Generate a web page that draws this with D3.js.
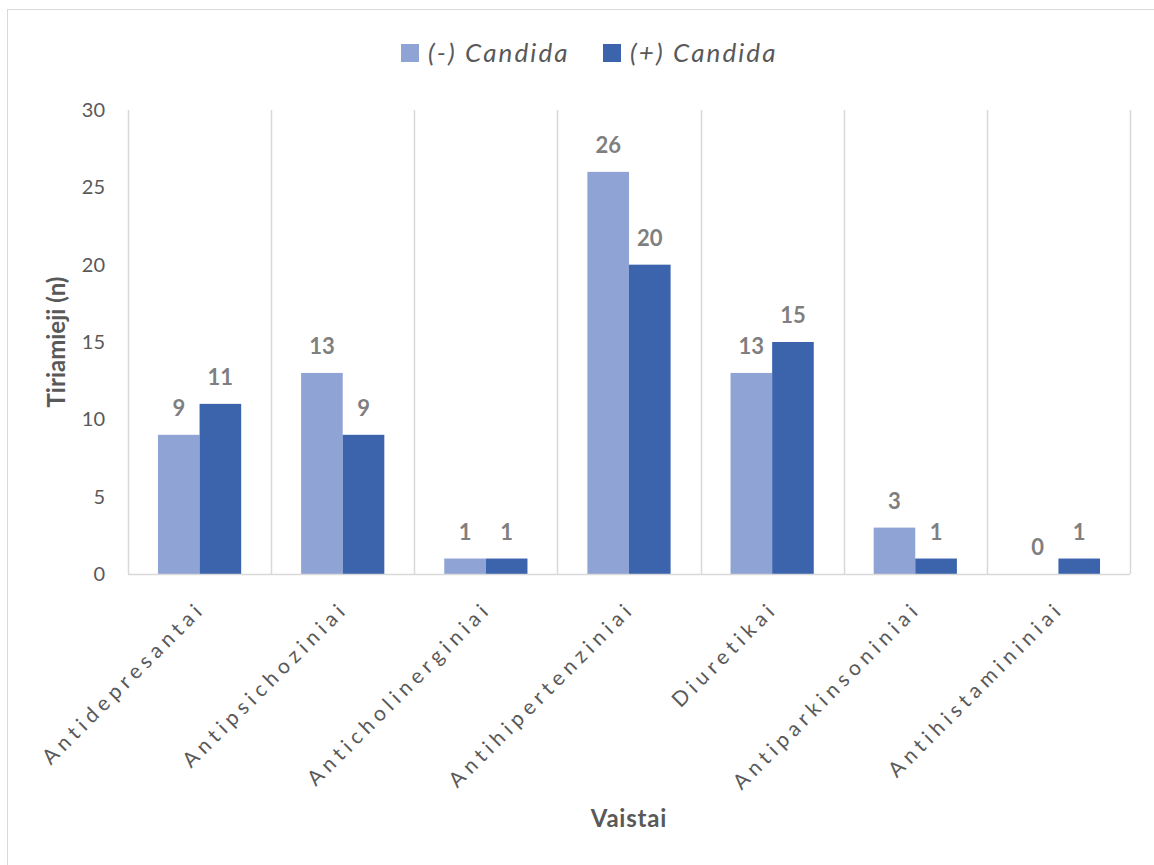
<!DOCTYPE html>
<html>
<head>
<meta charset="utf-8">
<script src="https://cdn.jsdelivr.net/npm/d3@7"></script>
<style>
  html, body { margin: 0; padding: 0; background: #fff; }
  svg { display: block; }
</style>
</head>
<body>
<svg id="chart" width="1154" height="865"></svg>
<script>
const categories = ["Antidepresantai", "Antipsichoziniai", "Anticholinerginiai", "Antihipertenziniai", "Diuretikai", "Antiparkinsoniniai", "Antihistamininiai"];
const seriesNames = ["(-) Candida", "(+) Candida"];
const seriesNeg = [9, 13, 1, 26, 13, 3, 0];
const seriesPos = [11, 9, 1, 20, 15, 1, 1];
const yTicks = [0, 5, 10, 15, 20, 25, 30];
const colors = ["#8FA3D5", "#3B64AD"];
const yTitle = "Tiriamieji (n)";
const xTitle = "Vaistai";

const FONT = "Lato, 'Open Sans', sans-serif";
const svg = d3.select("#chart");
const pL = 128, pR = 1130, pT = 110, pB = 574;

// outer border
svg.append("rect").attr("x", 7.5).attr("y", 9.5).attr("width", 1160).attr("height", 880)
  .attr("fill", "#fff").attr("stroke", "#d9d9d9").attr("stroke-width", 1);

const x = d3.scaleBand().domain(categories).range([pL, pR]).padding(0);
const xs = d3.scaleBand().domain(seriesNames).range([0, x.bandwidth()]).paddingInner(0).paddingOuter(0.72);
const y = d3.scaleLinear().domain([0, 30]).range([pB, pT]);

// vertical gridlines at category boundaries
const bounds = categories.map(c => x(c)).concat([pR]);
svg.append("g").selectAll("line").data(bounds).join("line")
  .attr("x1", d => Math.round(d) + 0.5).attr("x2", d => Math.round(d) + 0.5)
  .attr("y1", pT).attr("y2", pB)
  .attr("stroke", "#d9d9d9").attr("stroke-width", 1.5);

// bars
const data = categories.map((c, i) => ({ cat: c, vals: [seriesNeg[i], seriesPos[i]] }));
const groups = svg.append("g").selectAll("g").data(data).join("g")
  .attr("transform", d => `translate(${x(d.cat)},0)`);
groups.selectAll("rect").data(d => d.vals.map((v, j) => ({ v, s: seriesNames[j], j })))
  .join("rect")
  .attr("x", d => xs(d.s)).attr("width", xs.bandwidth())
  .attr("y", d => y(d.v)).attr("height", d => y(0) - y(d.v))
  .attr("fill", d => colors[d.j]);

// data labels
groups.selectAll("text").data(d => d.vals.map((v, j) => ({ v, s: seriesNames[j], j })))
  .join("text")
  .attr("x", d => xs(d.s) + xs.bandwidth() / 2)
  .attr("y", d => y(d.v) - 19)
  .attr("text-anchor", "middle")
  .attr("font-family", FONT).attr("font-weight", "bold").attr("font-size", 22)
  .attr("fill", "#7f7f7f")
  .text(d => d.v);

// x axis line
svg.append("line").attr("x1", pL).attr("x2", pR).attr("y1", pB + 0.5).attr("y2", pB + 0.5)
  .attr("stroke", "#d9d9d9").attr("stroke-width", 1.5);

// y axis
const yAxis = d3.axisLeft(y).tickValues(yTicks).tickSize(0).tickPadding(23);
const yg = svg.append("g").attr("transform", `translate(${pL},0)`).call(yAxis);
yg.select(".domain").remove();
yg.selectAll("text").attr("font-family", FONT).attr("font-size", 20).attr("fill", "#595959");

// x category labels
const xAxis = d3.axisBottom(x).tickSize(0).tickPadding(0);
const xg = svg.append("g").attr("transform", `translate(0,${pB})`).call(xAxis);
xg.select(".domain").remove();
xg.selectAll("text")
  .attr("font-family", FONT).attr("font-size", 21).attr("fill", "#595959")
  .attr("letter-spacing", "5px")
  .attr("text-anchor", "end")
  .attr("dy", 0).attr("y", 0)
  .attr("transform", "translate(7,36) rotate(-45)");

// y title
svg.append("text")
  .attr("transform", `translate(65,${(pT + pB) / 2}) rotate(-90)`)
  .attr("text-anchor", "middle")
  .attr("font-family", FONT).attr("font-weight", "bold").attr("font-size", 24)
  .attr("fill", "#595959").text(yTitle);

// x title
svg.append("text").attr("x", 629).attr("y", 827)
  .attr("text-anchor", "middle")
  .attr("font-family", FONT).attr("font-weight", "bold").attr("font-size", 24)
  .attr("letter-spacing", "0.8px")
  .attr("fill", "#595959").text(xTitle);

// legend
const legendX = [401, 603];
const lg = svg.append("g").selectAll("g").data(seriesNames).join("g")
  .attr("transform", (d, i) => `translate(${legendX[i]},44)`);
lg.append("rect").attr("width", 18).attr("height", 18).attr("fill", (d, i) => colors[i]);
lg.append("text").attr("x", 27).attr("y", 18)
  .attr("font-family", FONT).attr("font-style", "italic").attr("font-size", 26)
  .attr("letter-spacing", "2.1px")
  .attr("fill", "#595959").text(d => d);
</script>
</body>
</html>
